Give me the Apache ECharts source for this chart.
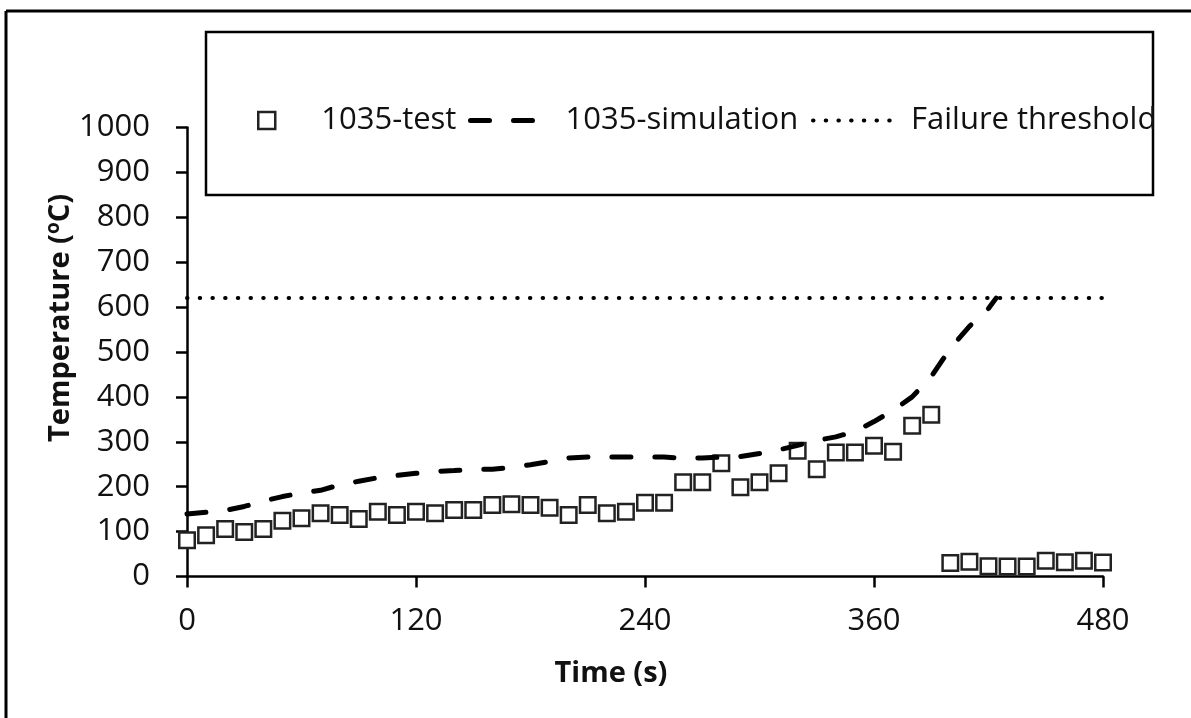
<!DOCTYPE html>
<html>
<head>
<meta charset="utf-8">
<script src="https://cdn.jsdelivr.net/npm/echarts@6/dist/echarts.min.js"></script>
<style>
  html, body { margin: 0; padding: 0; background: #ffffff; }
  #chart { width: 1191px; height: 718px; }
</style>
</head>
<body>
<div id="chart"></div>
<script>
// Measured surface temperature of the 1035 specimen, sampled every 10 s
const testTimes = [0, 10, 20, 30, 40, 50, 60, 70, 80, 90,
                   100, 110, 120, 130, 140, 150, 160, 170, 180, 190,
                   200, 210, 220, 230, 240, 250, 260, 270, 280, 290,
                   300, 310, 320, 330, 340, 350, 360, 370, 380, 390,
                   400, 410, 420, 430, 440, 450, 460, 470, 480];
const testTemps = [81, 92, 106, 99, 106, 124, 130, 141, 137, 128,
                   144, 137, 144, 141, 148, 148, 159, 161, 159, 153,
                   137, 159, 141, 144, 164, 164, 210, 210, 252, 199,
                   210, 230, 280, 239, 276, 276, 291, 278, 336, 360,
                   30, 33, 23, 22, 22, 35, 32, 35, 31];

// Simulated temperature history
const simTimes = [0, 10, 20, 30, 40, 50, 60, 70, 80, 90,
                  100, 110, 120, 130, 140, 150, 160, 170, 180, 190,
                  200, 210, 220, 230, 240, 250, 260, 270, 280, 290,
                  300, 310, 320, 330, 340, 350, 360, 370, 380, 390,
                  400, 410, 420, 424];
const simTemps = [139, 143, 147, 156, 168, 178, 186, 192, 204, 212,
                  220, 225, 230, 234, 236, 239, 239, 243, 249, 256,
                  264, 266, 266, 266, 266, 266, 263, 264, 266, 267,
                  274, 282, 292, 303, 311, 323, 345, 370, 400, 445,
                  508, 557, 597, 620];

// Failure threshold
const thresholdTimes = [0, 480];
const thresholdTemp = 620;

const seriesNames = ['1035-test', '1035-simulation', 'Failure threshold'];
const xAxisTitle = 'Time (s)';

const FONT = "'Open Sans', 'Noto Sans', sans-serif";
const INK = '#111111';

const zip = (xs, ys) => xs.map((x, i) => [x, ys[i]]);

const chart = echarts.init(document.getElementById('chart'), null, { renderer: 'canvas' });

const legendText = (padLeft) => ({
  fontFamily: FONT, fontSize: 31, color: INK, padding: [0, 0, 0, padLeft]
});

chart.setOption({
  animation: false,
  backgroundColor: '#ffffff',
  color: ['#222222', '#000000', '#000000'],
  grid: { left: 187, right: 88, top: 127.5, bottom: 141.5, containLabel: false },
  xAxis: {
    type: 'value', min: 0, max: 480, interval: 120,
    axisLine: { show: true, onZero: false, lineStyle: { color: '#000', width: 2.5 } },
    axisTick: { show: true, inside: false, length: 11, lineStyle: { color: '#000', width: 2.5 } },
    splitLine: { show: false },
    axisLabel: { margin: 29, fontFamily: FONT, fontSize: 31, color: INK,
                 formatter: v => String(v) }
  },
  yAxis: {
    type: 'value', min: 0, max: 1000, interval: 100,
    axisLine: { show: true, onZero: false, lineStyle: { color: '#000', width: 2.5 } },
    axisTick: { show: true, inside: false, length: 11, lineStyle: { color: '#000', width: 2.5 } },
    splitLine: { show: false },
    axisLabel: { margin: 37, fontFamily: FONT, fontSize: 31, color: INK,
                 formatter: v => String(v) }
  },
  legend: [
    {
      data: [seriesNames[0]], left: 252, top: 100, itemWidth: 17, itemHeight: 17,
      icon: 'rect', textStyle: legendText(41),
      itemStyle: { borderWidth: 2.5 }
    },
    {
      data: [seriesNames[1]], left: 463, top: 100, itemWidth: 68, itemHeight: 17,
      textStyle: legendText(22),
      itemStyle: { opacity: 0 },
      lineStyle: { width: 5 }
    },
    {
      data: [seriesNames[2]], left: 806, top: 100, itemWidth: 83, itemHeight: 17,
      textStyle: legendText(10),
      itemStyle: { opacity: 0 },
      lineStyle: { width: 4 }
    }
  ],
  series: [
    {
      name: seriesNames[0], type: 'scatter', z: 2,
      data: zip(testTimes, testTemps),
      symbol: 'rect', symbolSize: 15.5,
      itemStyle: { color: '#ffffff', borderColor: '#222222', borderWidth: 2.5, opacity: 1 }
    },
    {
      name: seriesNames[1], type: 'line', z: 3,
      data: zip(simTimes, simTemps),
      showSymbol: false, symbol: 'none', smooth: false,
      itemStyle: { color: '#000000' },
      lineStyle: { color: '#000000', width: 5, type: [19, 24], cap: 'round' }
    },
    {
      name: seriesNames[2], type: 'line', z: 3,
      data: thresholdTimes.map(t => [t, thresholdTemp]),
      showSymbol: false, symbol: 'none',
      itemStyle: { color: '#000000' },
      lineStyle: { color: '#000000', width: 4, type: [0.5, 12.2], cap: 'round' }
    }
  ],
  graphic: [
    // outer frame edges
    { type: 'line', silent: true, shape: { x1: 6, y1: 11, x2: 1191, y2: 11 },
      style: { stroke: '#000', lineWidth: 3 } },
    { type: 'line', silent: true, shape: { x1: 6, y1: 11, x2: 6, y2: 718 },
      style: { stroke: '#000', lineWidth: 3 } },
    // legend frame
    { type: 'rect', silent: true, z: 0, shape: { x: 206, y: 32, width: 947, height: 163 },
      style: { fill: 'none', stroke: '#000', lineWidth: 2.5 } },
    // axis titles
    { type: 'text', silent: true, x: 611, y: 674,
      style: { text: xAxisTitle, fontFamily: FONT, fontSize: 29, fontWeight: 'bold',
               fill: INK, align: 'center', verticalAlign: 'middle' } },
    { type: 'text', silent: true, x: 61, y: 318, rotation: Math.PI / 2,
      style: { text: 'Temperature ({sup|o}C)', fontFamily: FONT, fontSize: 29, fontWeight: 'bold',
               fill: INK, align: 'center', verticalAlign: 'middle',
               rich: { sup: { fontFamily: FONT, fontSize: 19, fontWeight: 'bold', fill: INK,
                              verticalAlign: 'top', lineHeight: 34 } } } }
  ]
});
</script>
</body>
</html>
